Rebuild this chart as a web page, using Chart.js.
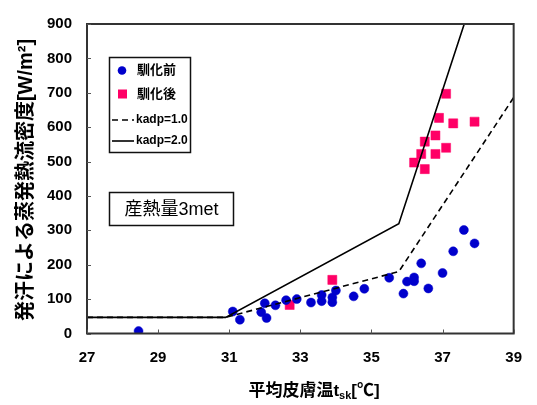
<!DOCTYPE html>
<html>
<head>
<meta charset="utf-8">
<script src="https://cdn.jsdelivr.net/npm/chart.js@4"></script>
<style>
  html, body { margin: 0; padding: 0; background: #fff; }
  #wrap { width: 537px; height: 405px; }
</style>
</head>
<body>
<div id="wrap"><canvas id="c" width="537" height="405"></canvas></div>
<script>
// Mean skin temperature [°C] vs. evaporative heat flux by sweating [W/m²]
const preX  = [28.45, 31.1, 31.3, 31.9, 32.0, 32.05, 32.3, 32.6, 32.9, 33.3, 33.6, 33.6, 33.9, 33.9, 34.0, 34.5, 34.8, 35.5, 35.9, 36.0, 36.2, 36.2, 36.4, 36.6, 37.0, 37.3, 37.6, 37.9];
const preY  = [7, 64, 40, 62, 88, 45, 82, 97, 100, 90, 112, 94, 105, 91, 125, 108, 130, 162, 116, 151, 163, 152, 204, 131, 176, 239, 301, 262];

const postX = [32.7, 33.9, 36.2, 36.4, 36.5, 36.5, 36.8, 36.8, 36.9, 37.1, 37.1, 37.3, 37.9];
const postY = [83, 156, 497, 522, 478, 558, 576, 522, 627, 540, 697, 611, 616];

const kadp1X = [27, 30.9, 35.77, 39];
const kadp1Y = [47, 47, 180, 686];
const kadp2X = [27, 30.9, 35.77, 37.61];
const kadp2Y = [47, 47, 319, 900];

const xTicks = [27, 29, 31, 33, 35, 37, 39];
const yTicks = [0, 100, 200, 300, 400, 500, 600, 700, 800, 900];

const labels = { pre: '馴化前', post: '馴化後', k1: 'kadp=1.0', k2: 'kadp=2.0' };
const yTitle = '発汗による蒸発熱流密度[W/m²]';
const xTitleMain = '平均皮膚温t', xTitleSub = 'sk', xTitleTail = '[℃]';
const noteText = '産熱量3met';

const FONT = "'Liberation Sans', Arial, 'Noto Sans CJK JP', sans-serif";
const CJK = "'Liberation Sans', 'Noto Sans CJK JP', sans-serif";
const BLUE = '#0000CC', PINK = '#FF0066';

const pts = (xs, ys) => xs.map((v, i) => ({ x: v, y: ys[i] }));

const decor = {
  id: 'decor',
  afterDraw(chart) {
    const { ctx, chartArea: { left, top, right, bottom }, scales: { x, y } } = chart;
    ctx.save();
    // plot frame
    ctx.strokeStyle = '#333';
    ctx.lineWidth = 2;
    ctx.strokeRect(left, top, right - left, bottom - top);
    // inward tick marks
    ctx.lineWidth = 1;
    ctx.strokeStyle = '#555';
    ctx.beginPath();
    x.ticks.forEach(t => {
      const px = Math.round(x.getPixelForValue(t.value)) + 0.5;
      ctx.moveTo(px, bottom); ctx.lineTo(px, bottom - 4);
    });
    y.ticks.forEach(t => {
      const py = Math.round(y.getPixelForValue(t.value)) + 0.5;
      ctx.moveTo(left, py); ctx.lineTo(left + 4, py);
    });
    ctx.stroke();

    // legend box
    const ds = chart.data.datasets;
    ctx.fillStyle = '#fff';
    ctx.fillRect(109.5, 57.5, 81, 95);
    ctx.strokeStyle = '#111';
    ctx.lineWidth = 1.5;
    ctx.strokeRect(109.5, 57.5, 81, 95);
    const rows = [70.5, 94, 120, 141];
    ctx.textBaseline = 'middle';
    ctx.textAlign = 'left';
    // pre
    ctx.fillStyle = ds[2].backgroundColor;
    ctx.beginPath(); ctx.arc(122, rows[0], 4.3, 0, Math.PI * 2); ctx.fill();
    // post
    ctx.fillStyle = ds[3].backgroundColor;
    ctx.fillRect(118, rows[1] - 4.5, 9, 9);
    // kadp=1.0
    ctx.strokeStyle = ds[0].borderColor;
    ctx.lineWidth = 1.6;
    ctx.setLineDash([6, 4]);
    ctx.beginPath(); ctx.moveTo(112, rows[2]); ctx.lineTo(134, rows[2]); ctx.stroke();
    ctx.setLineDash([]);
    ctx.beginPath(); ctx.moveTo(112, rows[3]); ctx.lineTo(134, rows[3]); ctx.stroke();
    ctx.fillStyle = '#000';
    ctx.font = 'bold 13px ' + CJK;
    ctx.fillText(ds[2].label, 137, rows[0]);
    ctx.fillText(ds[3].label, 137, rows[1]);
    ctx.font = 'bold 12px ' + CJK;
    ctx.fillText(ds[0].label, 136, rows[2]);
    ctx.fillText(ds[1].label, 136, rows[3]);

    // metabolic rate note
    ctx.fillStyle = '#fff';
    ctx.fillRect(109.5, 192.5, 124, 33);
    ctx.strokeStyle = '#111';
    ctx.lineWidth = 1.5;
    ctx.strokeRect(109.5, 192.5, 124, 33);
    ctx.fillStyle = '#000';
    ctx.font = '18px ' + CJK;
    ctx.textAlign = 'center';
    ctx.fillText(noteText, 171.5, 210);

    // y axis title
    ctx.save();
    ctx.translate(26, 180);
    ctx.rotate(-Math.PI / 2);
    ctx.font = 'bold 20px ' + CJK;
    ctx.textAlign = 'center';
    ctx.textBaseline = 'middle';
    ctx.fillText(yTitle, 0, 0);
    ctx.restore();

    // x axis title with subscript
    const big = 'bold 17px ' + CJK, small = 'bold 11px ' + CJK;
    ctx.font = big; const w1 = ctx.measureText(xTitleMain).width;
    const w3 = ctx.measureText(xTitleTail).width;
    ctx.font = small; const w2 = ctx.measureText(xTitleSub).width;
    let sx = 314 - (w1 + w2 + w3) / 2;
    const by = 396;
    ctx.textAlign = 'left';
    ctx.textBaseline = 'alphabetic';
    ctx.font = big; ctx.fillText(xTitleMain, sx, by); sx += w1;
    ctx.font = small; ctx.fillText(xTitleSub, sx, by + 3); sx += w2;
    ctx.font = big; ctx.fillText(xTitleTail, sx, by);
    ctx.restore();
  }
};

new Chart(document.getElementById('c'), {
  type: 'scatter',
  data: {
    datasets: [
      {
        label: labels.k1, data: pts(kadp1X, kadp1Y), showLine: true,
        borderColor: '#000', borderWidth: 1.6, borderDash: [6, 4],
        pointRadius: 0, pointHoverRadius: 0, fill: false, order: 0
      },
      {
        label: labels.k2, data: pts(kadp2X, kadp2Y), showLine: true,
        borderColor: '#000', borderWidth: 1.6,
        pointRadius: 0, pointHoverRadius: 0, fill: false, order: 0
      },
      {
        label: labels.pre, data: pts(preX, preY),
        backgroundColor: BLUE, borderColor: BLUE, borderWidth: 0.5,
        pointStyle: 'circle', pointRadius: 4.5, order: 1
      },
      {
        label: labels.post, data: pts(postX, postY),
        backgroundColor: PINK, borderColor: PINK, borderWidth: 0.5,
        pointStyle: 'rect', pointRadius: 6.4, order: 1
      }
    ]
  },
  options: {
    responsive: false,
    animation: false,
    events: [],
    layout: { padding: { top: 13, right: 11, left: 0, bottom: 0 } },
    plugins: { legend: { display: false }, tooltip: { enabled: false }, title: { display: false } },
    scales: {
      x: {
        type: 'linear', min: 27, max: 39,
        afterBuildTicks: s => { s.ticks = xTicks.map(v => ({ value: v })); },
        afterFit: s => { s.height = 71.5; },
        grid: { display: false, drawTicks: false },
        border: { display: false },
        ticks: { color: '#000', padding: 15, font: { family: FONT, size: 15, weight: 'bold' } }
      },
      y: {
        type: 'linear', min: 0, max: 900,
        afterBuildTicks: s => { s.ticks = yTicks.map(v => ({ value: v })); },
        afterFit: s => { s.width = 87; },
        grid: { display: false, drawTicks: false },
        border: { display: false },
        ticks: { color: '#000', padding: 15, font: { family: FONT, size: 15, weight: 'bold' } }
      }
    }
  },
  plugins: [decor]
});
</script>
</body>
</html>
